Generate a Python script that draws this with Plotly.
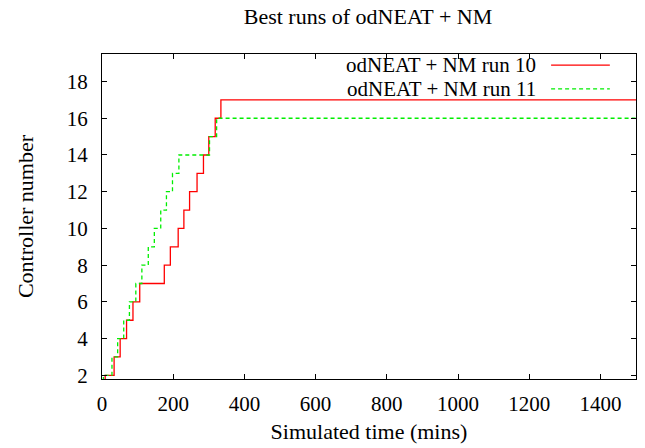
import plotly.graph_objects as go

# Data
run10_x = [0, 9, 34, 51, 69, 87, 106, 175, 192, 214, 230, 246, 267, 285, 300, 318, 334, 1500]
run10_y = [1, 2, 3, 4, 5, 6, 7, 8, 9, 10, 11, 12, 13, 14, 15, 16, 17, 17]
run11_x = [0, 4, 28, 44, 61, 77, 95, 112, 130, 147, 165, 181, 198, 216, 302, 322, 1500]
run11_y = [1, 2, 3, 4, 5, 6, 7, 8, 9, 10, 11, 12, 13, 14, 15, 16, 16]
names = ["odNEAT + NM run 10", "odNEAT + NM run 11"]
colors = ["#ff0000", "#00ee00"]
dashes = ["solid", "4px,3px"]
x_ticks = [0, 200, 400, 600, 800, 1000, 1200, 1400]
y_ticks = [2, 4, 6, 8, 10, 12, 14, 16, 18]

FONT = "Liberation Serif"
FS_TICK = 21
FS_TEXT = 22
FS_LEG = 21

fig = go.Figure()
for xs, ys, nm, c, d in zip([run10_x, run11_x], [run10_y, run11_y], names, colors, dashes):
    fig.add_trace(go.Scatter(x=xs, y=ys, mode="lines", name=nm, line_shape="hv",
                             line=dict(color=c, width=1.3, dash=d), showlegend=False))

# gnuplot-style legend: text right-aligned, sample line on the right
rows_y = [0.966, 0.893]
for nm, c, d, yy in zip(names, colors, dashes, rows_y):
    fig.add_annotation(x=0.815, y=yy, xref="paper", yref="paper", text=nm, showarrow=False,
                       xanchor="right", yanchor="middle", borderpad=0,
                       font=dict(family=FONT, size=FS_LEG, color="black"))
    fig.add_shape(type="line", xref="paper", yref="paper", x0=0.841, x1=0.951, y0=yy, y1=yy,
                  line=dict(color=c, width=1.3, dash=d))

axis_common = dict(showline=True, linecolor="black", linewidth=1, mirror="ticks", ticks="inside",
                   ticklen=5, tickcolor="black", showgrid=False, zeroline=False,
                   tickfont=dict(family=FONT, size=FS_TICK, color="black"))

fig.update_layout(
    width=645, height=448,
    margin=dict(l=102, r=8, t=54, b=67),
    paper_bgcolor="white", plot_bgcolor="white",
    title=dict(text="Best runs of odNEAT + NM", x=368 / 645, xanchor="center", y=1 - 16 / 448,
               yanchor="middle", font=dict(family=FONT, size=FS_TEXT, color="black")),
    xaxis=dict(range=[0, 1500], tickvals=x_ticks, ticklabelstandoff=6,
               title=dict(text="Simulated time (mins)", font=dict(family=FONT, size=FS_TEXT, color="black"), standoff=8),
               **axis_common),
    yaxis=dict(range=[1.8, 19.5], tickvals=y_ticks, ticklabelstandoff=9,
               title=dict(text="Controller number", font=dict(family=FONT, size=FS_TEXT, color="black"), standoff=27),
               **axis_common),
)

fig.write_html("out.html")
